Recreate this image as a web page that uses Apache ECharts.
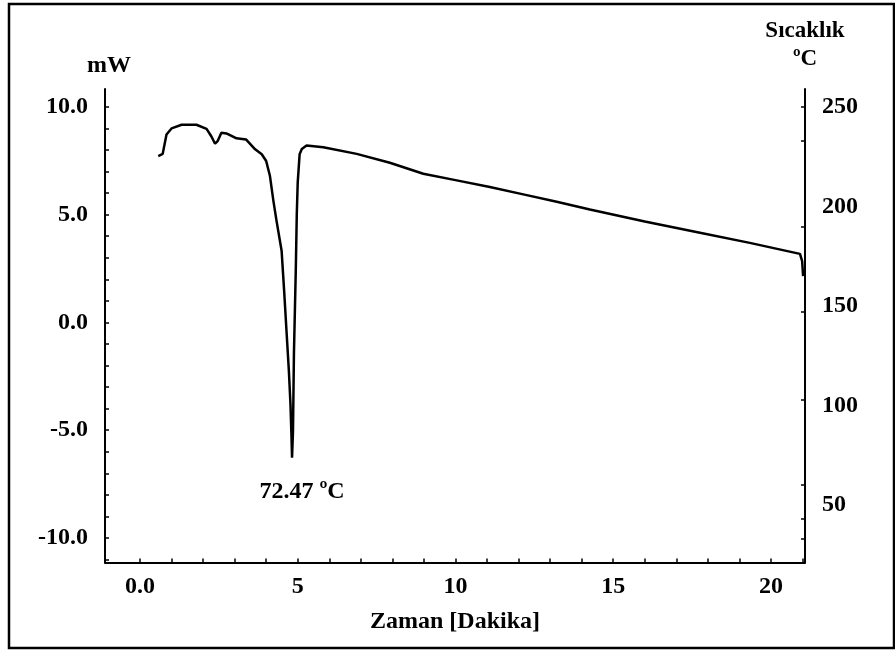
<!DOCTYPE html>
<html><head><meta charset="utf-8">
<script src="https://cdn.jsdelivr.net/npm/echarts@6/dist/echarts.min.js"></script>
<style>html,body{margin:0;padding:0;background:#fff}#c{width:895px;height:653px}</style>
</head><body><div id="c"></div>
<script>
// ---- data ----
const timeMin = [0.58,0.72,0.84,1.00,1.32,1.79,2.11,2.26,2.38,2.46,2.58,2.74,3.06,3.36,3.65,3.86,4.00,4.12,4.23,4.33,4.49,4.57,4.65,4.72,4.77,4.80,4.82,4.85,4.88,4.94,4.97,5.00,5.06,5.13,5.28,5.81,6.87,7.92,8.98,10.04,11.09,12.15,13.21,14.26,16.00,17.75,19.33,20.92,20.99,21.02];
const heatFlowMW = [7.72,7.82,8.72,9.00,9.17,9.17,8.98,8.64,8.29,8.41,8.80,8.77,8.54,8.49,8.03,7.80,7.49,6.79,5.63,4.70,3.31,1.45,-0.54,-2.26,-3.79,-5.18,-6.28,-5.05,-1.47,2.53,5.00,6.50,7.80,8.05,8.21,8.13,7.82,7.41,6.90,6.59,6.28,5.94,5.60,5.24,4.68,4.16,3.69,3.18,2.84,2.15];
const xLabelValues = [0,5,10,15,20];
const xTickValues = [0,1,2,3,4,5,6,7,8,9,10,11,12,13,14,15,16,17,18,19,20,21];
const leftLabelValues = [-10,-5,0,5,10];
const leftTickValues = [-11,-10,-9,-8,-7,-6,-5,-4,-3,-2,-1,0,1,2,3,4,5,6,7,8,9,10];
const rightLabelValues = [50,100,150,200,250];
const rightTickValues = [33,43,60,103,147,190,233,250];
const peakLabel = '72.47 ºC';
const xName = 'Zaman [Dakika]';
const leftName = 'mW';
const rightName = 'Sıcaklık\nºC';

const FONT = "'Liberation Serif','Times New Roman',serif";
const txt = {fontFamily: FONT, fontWeight: 'bold', fontSize: 24, color: '#000'};
const axLine = {show: true, onZero: false, lineStyle: {color: '#000', width: 2}};

const chart = echarts.init(document.getElementById('c'), null, {renderer: 'canvas'});
chart.setOption({
  animation: false,
  backgroundColor: '#fff',
  grid: {left: 105, right: 90, top: 89, bottom: 90.5, outerBoundsMode: 'none'},
  graphic: [{type: 'rect', shape: {x: 9, y: 4, width: 885, height: 644}, style: {fill: 'none', stroke: '#000', lineWidth: 2.5}, silent: true}],
  xAxis: {
    type: 'value', min: -1.109, max: 21.08,
    name: xName, nameLocation: 'middle', nameGap: 47,
    nameTextStyle: Object.assign({}, txt, {padding: [0, 0, 0, 0]}),
    axisLine: axLine,
    axisTick: {show: true, inside: true, length: 4, customValues: xTickValues, lineStyle: {color: '#000', width: 1.5}},
    axisLabel: Object.assign({}, txt, {customValues: xLabelValues, margin: 12, formatter: v => v === 0 ? '0.0' : String(v)}),
    splitLine: {show: false}
  },
  yAxis: [{
    type: 'value', min: -11.14, max: 10.83, position: 'left',
    name: leftName, nameLocation: 'end', nameGap: 11,
    nameTextStyle: Object.assign({}, txt, {align: 'center', padding: [0, 0, 0, 8]}),
    axisLine: axLine,
    axisTick: {show: true, inside: true, length: 4, customValues: leftTickValues, lineStyle: {color: '#000', width: 1.5}},
    axisLabel: Object.assign({}, txt, {customValues: leftLabelValues, margin: 17, formatter: v => v.toFixed(1)}),
    splitLine: {show: false}
  }, {
    type: 'value', min: 21.1, max: 259, position: 'right',
    name: rightName, nameLocation: 'end', nameGap: 16,
    nameTextStyle: Object.assign({}, txt, {fontSize: 23, lineHeight: 28, align: 'center', padding: [0, 0, 0, 0]}),
    axisLine: axLine,
    axisTick: {show: true, inside: true, length: 4, customValues: rightTickValues, lineStyle: {color: '#000', width: 1.5}},
    axisLabel: Object.assign({}, txt, {customValues: rightLabelValues, margin: 17}),
    splitLine: {show: false}
  }],
  series: [{
    type: 'line', xAxisIndex: 0, yAxisIndex: 0,
    data: timeMin.map((t, i) => [t, heatFlowMW[i]]),
    showSymbol: false, smooth: false,
    lineStyle: {color: '#000', width: 2.5},
    markPoint: {
      symbol: 'circle', symbolSize: 0,
      label: Object.assign({}, txt, {show: true, formatter: peakLabel, offset: [10, 34]}),
      data: [{type: 'min'}]
    }
  }, {
    type: 'line', yAxisIndex: 1, data: []
  }]
});
</script></body></html>
